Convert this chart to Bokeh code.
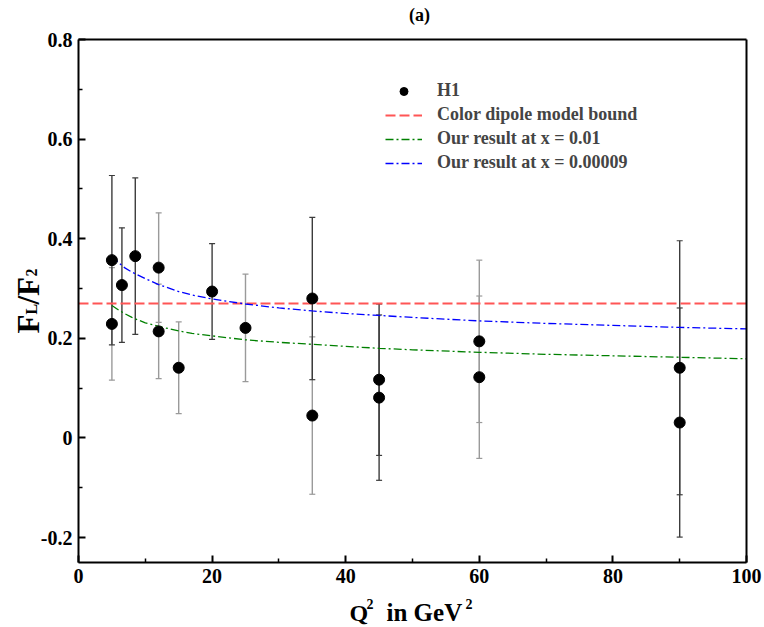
import math
from bokeh.plotting import figure
from bokeh.models import (Range1d, FixedTicker, CustomJSTickFormatter, Whisker, TeeHead,
                          ColumnDataSource, Legend, LegendItem, Label, LinearAxis)
from bokeh.embed import file_html
from bokeh.resources import INLINE

# ---------------- data ----------------
# H1 measurements, set A (dark error bars)
q2_a = [5, 6.5, 8.5, 20, 35, 45, 45, 90, 90]
ratio_a = [0.357, 0.307, 0.365, 0.294, 0.280, 0.117, 0.081, 0.141, 0.031]
err_a = [0.170, 0.115, 0.157, 0.096, 0.163, 0.152, 0.166, 0.255, 0.230]

# H1 measurements, set B (light error bars)
q2_b = [5, 12, 12, 15, 25, 35, 60, 60]
ratio_b = [0.229, 0.342, 0.214, 0.141, 0.221, 0.045, 0.194, 0.122]
err_b = [0.113, 0.110, 0.095, 0.092, 0.108, 0.158, 0.163, 0.163]

# Color dipole model bound
cdm_q2 = [0, 100]
cdm_ratio = [0.27, 0.27]

# Our results
curve_q2 = [5, 6, 7, 8, 10, 12, 15, 17, 20, 25, 30, 35, 40, 45, 50, 60, 70, 80, 90, 100]
ours_x001 = [0.266, 0.257, 0.249, 0.242, 0.231, 0.224, 0.215, 0.210, 0.205, 0.197, 0.192,
             0.188, 0.184, 0.180, 0.177, 0.172, 0.168, 0.165, 0.162, 0.159]
ours_x00009 = [0.365, 0.352, 0.341, 0.333, 0.320, 0.308, 0.294, 0.287, 0.279, 0.269, 0.261,
               0.255, 0.250, 0.246, 0.242, 0.235, 0.230, 0.226, 0.222, 0.219]

x_ticks = [0, 20, 40, 60, 80, 100]
x_minor = [10, 30, 50, 70, 90]
y_ticks = [-0.2, 0, 0.2, 0.4, 0.6, 0.8]
y_minor = [-0.1, 0.1, 0.3, 0.5, 0.7]

labels = ["H1", "Color dipole model bound", "Our result at x = 0.01", "Our result at x = 0.00009"]

# ---------------- layout (pixels) ----------------
W, H = 764, 627
FL, FR, FT, FB = 78, 746, 39, 562   # data box edges in canvas pixels
XMIN, XMAX, YMIN, YMAX = 0, 100, -0.25, 0.8
ppx = (FR - FL) / (XMAX - XMIN)
ppy = (FB - FT) / (YMAX - YMIN)
X_LO, X_HI = XMIN - FL / ppx, XMAX + (W - FR) / ppx
Y_LO, Y_HI = YMIN - (H - FB) / ppy, YMAX + FT / ppy

def dx(px):
    return X_LO + px / ppx

def dy(py):
    return Y_HI - py / ppy

p = figure(width=W, height=H, output_backend="svg", toolbar_location=None,
           x_range=Range1d(X_LO, X_HI), y_range=Range1d(Y_LO, Y_HI),
           min_border=0, min_border_left=0, min_border_right=0,
           min_border_top=0, min_border_bottom=0)
p.title.visible = False
p.xgrid.visible = False
p.ygrid.visible = False
p.outline_line_color = None
p.background_fill_color = "white"
p.border_fill_color = "white"

FONT = "Liberation Serif"

def style_axis(ax):
    ax.axis_line_width = 2
    ax.axis_line_color = "black"
    ax.major_tick_in = 7
    ax.major_tick_out = 0
    ax.minor_tick_in = 4
    ax.minor_tick_out = 0
    ax.major_tick_line_width = 2
    ax.minor_tick_line_width = 1.5
    ax.major_tick_line_color = "black"
    ax.minor_tick_line_color = "black"
    ax.major_label_text_font = FONT
    ax.major_label_text_font_style = "bold"
    ax.major_label_text_font_size = "20px"
    ax.major_label_text_color = "black"

xa = p.xaxis[0]
ya = p.yaxis[0]
style_axis(xa)
style_axis(ya)
xa.fixed_location = YMIN
ya.fixed_location = XMIN
xa.bounds = (XMIN, XMAX)
ya.bounds = (YMIN, YMAX)
xa.ticker = FixedTicker(ticks=x_ticks, minor_ticks=x_minor)
ya.ticker = FixedTicker(ticks=y_ticks, minor_ticks=y_minor)
xa.major_label_standoff = 6
ya.major_label_standoff = 6
ya.formatter = CustomJSTickFormatter(
    code="return (Math.abs(tick) < 1e-9) ? '0' : tick.toFixed(1);")

# frame top and right edges as plain axes without ticks
top = LinearAxis(fixed_location=YMAX, bounds=(XMIN, XMAX), ticker=FixedTicker(ticks=[]),
                 axis_line_width=2, axis_line_color="black", major_label_text_font_size="0px")
right = LinearAxis(fixed_location=XMAX, bounds=(YMIN, YMAX), ticker=FixedTicker(ticks=[]),
                   axis_line_width=2, axis_line_color="black", major_label_text_font_size="0px")
p.add_layout(top, "above")
p.add_layout(right, "right")

# ---------------- glyphs ----------------
r_cdm = p.line(cdm_q2, cdm_ratio, line_color="#ff5555", line_width=2, line_dash="10 4")
r_g = p.line(curve_q2, ours_x001, line_color="#008000", line_width=1.3, line_dash="8 3 2 3")
r_b = p.line(curve_q2, ours_x00009, line_color="#0000ff", line_width=1.3, line_dash="8 3 2 3")

def add_errors(xs, ys, es, color):
    src = ColumnDataSource(dict(x=xs, lo=[y - e for y, e in zip(ys, es)],
                                hi=[y + e for y, e in zip(ys, es)]))
    w = Whisker(source=src, base="x", upper="hi", lower="lo", dimension="height",
                line_color=color, line_width=1.4,
                upper_head=TeeHead(size=6, line_color=color, line_width=1.2),
                lower_head=TeeHead(size=6, line_color=color, line_width=1.2))
    p.add_layout(w)

add_errors(q2_b, ratio_b, err_b, "#9a9a9a")
add_errors(q2_a, ratio_a, err_a, "#3c3c3c")

dots_b = p.scatter(q2_b, ratio_b, size=11, color="black")
dots_a = p.scatter(q2_a, ratio_a, size=11, color="black")

legend = Legend(items=[LegendItem(label=labels[0], renderers=[dots_a]),
                       LegendItem(label=labels[1], renderers=[r_cdm]),
                       LegendItem(label=labels[2], renderers=[r_g]),
                       LegendItem(label=labels[3], renderers=[r_b])],
                location=(385, H - 173))
legend.border_line_color = None
legend.background_fill_alpha = 0
legend.label_text_font = FONT
legend.label_text_font_style = "bold"
legend.label_text_font_size = "18px"
legend.glyph_width = 37
legend.glyph_height = 20
legend.label_height = 20
legend.spacing = 3
legend.padding = 0
legend.margin = 0
legend.label_standoff = 15
p.add_layout(legend)

# ---------------- texts (axis labels, title) ----------------
def txt(px, py, s, size, angle=0.0, align="left"):
    p.add_layout(Label(x=dx(px), y=dy(py), text=s, text_font=FONT, text_font_style="bold",
                       text_font_size=f"{size}px", text_color="black", angle=angle,
                       text_align=align, text_baseline="alphabetic"))

# title
txt(419, 14, "(a)", 18, align="center")
# x label: Q^2 in GeV^2
txt(349, 612, "Q", 24)
txt(366, 603, "2", 14)
txt(386, 612, "in GeV", 25)
txt(465, 603, "2", 14)
# y label: F_L/F_2 (rotated)
A = math.pi / 2
txt(28, 333, "F", 31, angle=A)
txt(31, 314, "L", 16, angle=A)
txt(28, 304, "/F", 31, angle=A)
txt(31, 276, "2", 16, angle=A)

open("out.html", "w").write(file_html(p, INLINE))
